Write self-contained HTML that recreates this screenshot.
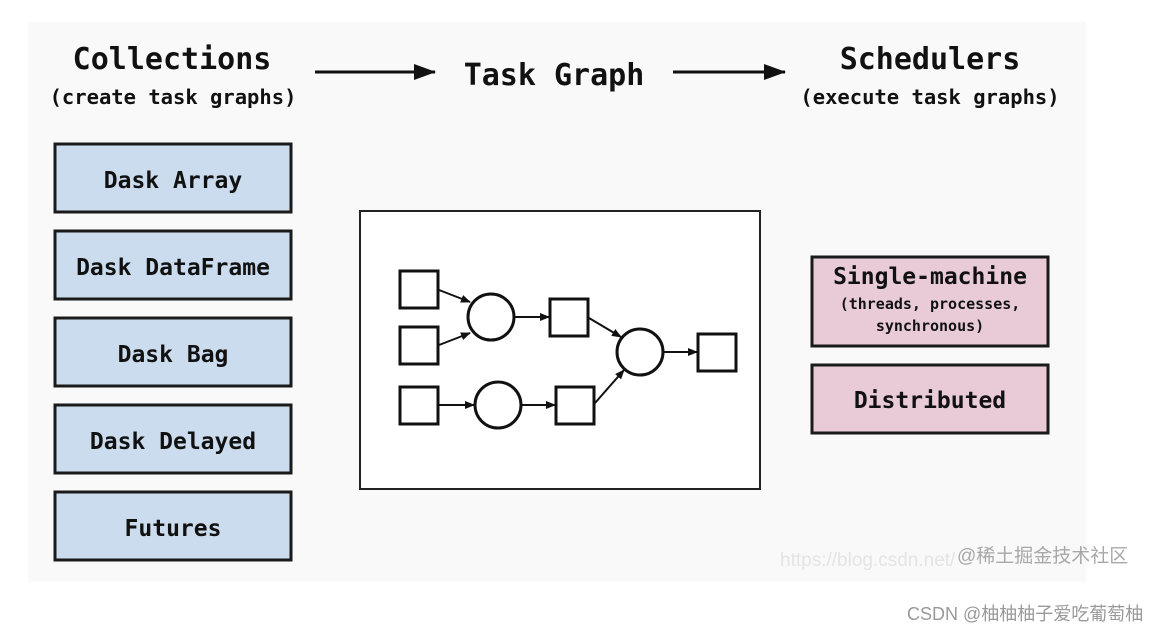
<!DOCTYPE html>
<html><head><meta charset="utf-8"><style>
html,body{margin:0;padding:0;background:#fff;width:1174px;height:633px;overflow:hidden}
svg{display:block}
.m{font-family:"DejaVu Sans Mono","Liberation Mono",monospace;font-weight:bold;fill:#111}
</style></head><body>
<svg width="1174" height="633" viewBox="0 0 1174 633" xmlns="http://www.w3.org/2000/svg">
<defs><marker id="a" markerWidth="10" markerHeight="10" refX="9" refY="5" orient="auto" markerUnits="userSpaceOnUse"><path d="M0,1 L10,5 L0,9 z" fill="#111"/></marker>
<marker id="b" markerWidth="22" markerHeight="16" refX="21" refY="8" orient="auto" markerUnits="userSpaceOnUse"><path d="M0,0 L22,8 L0,16 z" fill="#111"/></marker></defs>
<rect x="28" y="22" width="1058" height="560" fill="#f9f9f9"/>
<text class="m" x="172" y="69" font-size="30" text-anchor="middle">Collections</text>
<text class="m" x="173" y="104" font-size="20.5" text-anchor="middle">(create task graphs)</text>
<text class="m" x="554" y="85" font-size="30" text-anchor="middle">Task Graph</text>
<text class="m" x="930" y="69" font-size="30" text-anchor="middle">Schedulers</text>
<text class="m" x="930" y="104" font-size="20.5" text-anchor="middle">(execute task graphs)</text>
<line x1="315" y1="72" x2="435" y2="72" stroke="#111" stroke-width="3" marker-end="url(#b)"/>
<line x1="673" y1="72" x2="785" y2="72" stroke="#111" stroke-width="3" marker-end="url(#b)"/>
<g stroke="#1a1a1a" stroke-width="3" fill="#cadcee">
<rect x="55" y="144" width="236" height="68"/>
<rect x="55" y="231" width="236" height="68"/>
<rect x="55" y="318" width="236" height="68"/>
<rect x="55" y="405" width="236" height="68"/>
<rect x="55" y="492" width="236" height="68"/>
</g>
<g class="m" font-size="23" text-anchor="middle">
<text x="173" y="188">Dask Array</text>
<text x="173" y="275">Dask DataFrame</text>
<text x="173" y="362">Dask Bag</text>
<text x="173" y="449">Dask Delayed</text>
<text x="173" y="536">Futures</text>
</g>
<g stroke="#1a1a1a" stroke-width="3" fill="#e9cbd8">
<rect x="812" y="257" width="236" height="89"/>
<rect x="812" y="365" width="236" height="68"/>
</g>
<text class="m" x="930" y="284" font-size="23" text-anchor="middle">Single-machine</text>
<text class="m" x="930" y="309" font-size="15" text-anchor="middle">(threads, processes,</text>
<text class="m" x="930" y="331" font-size="15" text-anchor="middle">synchronous)</text>
<text class="m" x="930" y="408" font-size="23" text-anchor="middle">Distributed</text>
<rect x="360" y="211" width="400" height="278" fill="#fff" stroke="#222" stroke-width="2"/>
<g stroke="#111" stroke-width="3" fill="#fff">
<rect x="400" y="271" width="38" height="37"/>
<rect x="400" y="327" width="38" height="37"/>
<rect x="400" y="387" width="38" height="37"/>
<rect x="550" y="299" width="38" height="37"/>
<rect x="556" y="387" width="38" height="37"/>
<rect x="698" y="334" width="38" height="37"/>
<circle cx="491" cy="317" r="23"/>
<circle cx="498" cy="405" r="23"/>
<circle cx="640" cy="352" r="23"/>
</g>
<g stroke="#111" stroke-width="2" marker-end="url(#a)">
<line x1="439" y1="290" x2="470" y2="302"/>
<line x1="439" y1="345" x2="470" y2="333"/>
<line x1="515" y1="317" x2="549" y2="317"/>
<line x1="439" y1="405" x2="474" y2="405"/>
<line x1="522" y1="405" x2="555" y2="405"/>
<line x1="589" y1="318" x2="621" y2="337"/>
<line x1="595" y1="403" x2="624" y2="370"/>
<line x1="664" y1="352" x2="697" y2="352"/>
</g>
<text x="780" y="566" font-family="Liberation Sans,sans-serif" font-size="19" fill="#e4e4e4">https://blog.csdn.net/</text>
<text x="957" y="562" font-family="Liberation Sans,'Noto Sans CJK SC',sans-serif" font-size="19" fill="#a8a8a8">@稀土掘金技术社区</text>
<text x="907" y="620" font-family="Liberation Sans,'Noto Sans CJK SC',sans-serif" font-size="18" fill="#999">CSDN @柚柚柚子爱吃葡萄柚</text>
</svg>
</body></html>
